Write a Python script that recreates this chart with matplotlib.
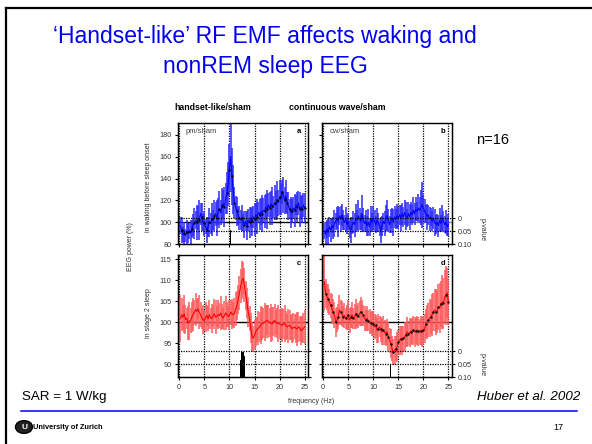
"""Slide: 'Handset-like' RF EMF affects waking and nonREM sleep EEG.
Four panels of relative EEG power spectra (exposure/sham) with p-value bars.
"""

import numpy as np
import matplotlib
matplotlib.use("Agg")
import matplotlib.pyplot as plt
from matplotlib.lines import Line2D
from matplotlib.patches import Circle

plt.rcParams["font.family"] = ["Liberation Sans", "DejaVu Sans"]

W, H = 592, 444

# ---
# Data (0.25 Hz bins, 0.25 .. 25 Hz)
# ---
freq_hz = np.arange(0.25, 25.01, 0.25)

# a: pm/sham, waking before sleep onset (%)
wake_pm = [
    97, 93, 89, 90, 88, 91, 90, 92, 90, 94,
    98, 99, 102, 100, 104, 102, 108, 105, 100, 99,
    96, 93, 96, 100, 99, 103, 102, 106, 108, 104,
    110, 112, 109, 115, 117, 114, 122, 127, 135, 148,
    160, 142, 130, 118, 113, 110, 106, 104, 102, 104,
    100, 98, 101, 97, 102, 100, 104, 101, 105, 103,
    107, 105, 109, 107, 110, 108, 111, 110, 114, 112,
    116, 113, 117, 115, 114, 118, 116, 120, 118, 123,
    121, 128, 125, 120, 124, 118, 115, 112, 109, 110,
    113, 111, 116, 114, 118, 112, 114, 112, 116, 113,
]
wake_pm_err = [
    8, 12, 7, 10, 6, 11, 9, 7, 12, 8,
    10, 14, 8, 16, 11, 18, 10, 13, 8, 11,
    7, 12, 9, 13, 10, 15, 9, 14, 11, 16,
    12, 17, 11, 16, 13, 18, 14, 19, 20, 24,
    32, 26, 22, 14, 11, 13, 8, 11, 9, 12,
    8, 12, 9, 13, 10, 14, 9, 13, 10, 15,
    11, 16, 10, 14, 12, 17, 11, 15, 12, 18,
    11, 15, 12, 17, 10, 16, 13, 18, 12, 16,
    14, 11, 16, 12, 15, 10, 13, 9, 14, 11,
    10, 15, 9, 14, 11, 16, 10, 13, 11, 14,
]

# b: cw/sham, waking before sleep onset (%)
wake_cw = [
    92, 89, 94, 91, 96, 93, 97, 95, 99, 101,
    104, 101, 106, 103, 107, 102, 100, 103, 98, 101,
    95, 93, 97, 100, 98, 104, 102, 106, 103, 101,
    108, 102, 99, 101, 97, 100, 96, 103, 100, 104,
    101, 98, 102, 100, 96, 93, 97, 101, 99, 104,
    106, 102, 98, 101, 104, 100, 105, 103, 106, 104,
    107, 104, 108, 105, 109, 106, 104, 108, 105, 109,
    107, 111, 108, 112, 110, 113, 111, 114, 116, 113,
    110, 108, 105, 107, 103, 105, 101, 104, 100, 98,
    100, 97, 102, 99, 104, 101, 98, 100, 96, 98,
]
wake_cw_err = [
    7, 11, 8, 12, 9, 11, 7, 10, 12, 8,
    10, 14, 8, 12, 10, 9, 7, 11, 9, 8,
    9, 12, 8, 10, 11, 13, 9, 14, 10, 8,
    17, 11, 8, 10, 9, 12, 8, 12, 9, 11,
    10, 8, 11, 9, 8, 12, 9, 8, 11, 12,
    14, 10, 8, 11, 9, 12, 10, 9, 11, 10,
    9, 12, 10, 9, 11, 13, 8, 11, 12, 10,
    9, 12, 10, 11, 9, 13, 12, 16, 21, 12,
    11, 8, 12, 9, 11, 8, 9, 10, 12, 9,
    8, 10, 11, 8, 12, 9, 8, 11, 8, 10,
]

# c: pm/sham, stage 2 sleep (%)
s2_pm = [
    100.9, 101.8, 101.2, 102.0, 100.6, 101.0, 99.8, 100.2, 100.4, 101.2,
    101.8, 102.3, 103.0, 102.6, 103.2, 102.4, 101.8, 101.0, 100.6, 100.4,
    101.2, 101.6, 100.8, 101.8, 101.0, 100.9, 101.5, 102.0, 101.2, 101.4,
    101.8, 101.6, 102.2, 101.4, 101.0, 101.6, 102.2, 101.8, 101.4, 101.7,
    102.4, 102.0, 101.8, 102.2, 103.2, 104.0, 105.4, 107.0, 108.6, 110.0,
    110.4, 108.8, 106.4, 104.6, 102.4, 100.8, 98.6, 96.5, 96.2, 97.0,
    97.8, 98.2, 98.6, 98.9, 99.4, 99.7, 99.8, 100.0, 100.2, 100.5,
    100.2, 100.0, 99.8, 99.6, 100.2, 100.4, 100.0, 99.8, 99.7, 99.6,
    99.4, 99.3, 99.6, 99.7, 99.2, 98.9, 99.1, 99.3, 98.8, 98.5,
    98.7, 98.9, 98.5, 98.4, 98.9, 98.6, 98.0, 98.2, 98.6, 98.9,
]
s2_pm_err = [
    5.5, 4.0, 3.0, 4.5, 3.5, 2.5, 4.0, 4.5, 3.0, 3.5,
    4.0, 3.0, 4.0, 3.0, 2.5, 4.0, 3.0, 2.5, 3.5, 2.5,
    3.5, 2.5, 3.0, 3.5, 2.5, 3.5, 2.5, 3.5, 4.0, 2.5,
    3.5, 3.0, 4.0, 3.0, 2.5, 3.5, 4.0, 3.0, 2.5, 3.5,
    3.0, 3.5, 3.0, 3.5, 4.0, 3.5, 3.5, 4.0, 4.0, 4.5,
    4.0, 4.0, 3.5, 3.5, 3.5, 3.0, 3.5, 3.5, 3.0, 3.5,
    3.5, 3.0, 4.0, 3.5, 4.5, 4.0, 3.5, 4.5, 4.0, 3.5,
    4.0, 3.5, 4.5, 4.0, 3.5, 4.0, 3.0, 3.5, 4.5, 3.5,
    3.5, 4.0, 3.5, 4.5, 3.5, 3.0, 4.0, 3.5, 3.0, 3.5,
    3.5, 3.0, 3.5, 4.0, 3.5, 3.0, 3.5, 3.0, 3.5, 4.0,
]

# d: cw/sham, stage 2 sleep (%)
s2_cw = [
    109.6, 106.8, 106.0, 105.6, 104.8, 104.0, 103.2, 102.5, 101.7, 100.0,
    100.6, 101.3, 102.9, 102.4, 102.0, 101.3, 101.6, 100.9, 101.2, 101.7,
    100.5, 101.2, 101.7, 100.9, 101.4, 102.0, 101.3, 101.6, 102.0, 102.5,
    102.2, 101.7, 100.9, 100.5, 100.9, 100.4, 100.1, 99.9, 99.7, 99.7,
    98.9, 99.3, 98.1, 98.5, 98.9, 98.3, 97.7, 98.1, 97.6, 97.3,
    97.7, 96.6, 95.7, 94.9, 93.7, 92.9, 93.3, 93.7, 94.1, 95.2,
    95.7, 96.1, 95.7, 96.2, 96.5, 97.0, 97.7, 97.3, 97.5, 97.7,
    97.9, 98.1, 97.7, 97.9, 98.1, 97.8, 97.7, 98.0, 97.7, 98.1,
    98.5, 99.7, 100.0, 100.5, 101.0, 101.3, 101.8, 102.5, 102.9, 102.5,
    102.5, 103.7, 103.4, 104.4, 104.8, 104.5, 106.0, 106.4, 107.0, 104.8,
]
s2_cw_err = [
    7.0, 3.5, 3.0, 3.5, 3.0, 3.0, 3.5, 3.0, 3.0, 3.5,
    3.0, 3.0, 3.5, 3.0, 3.0, 2.5, 3.0, 2.5, 3.0, 3.5,
    3.0, 2.5, 3.0, 2.5, 3.0, 3.5, 2.5, 3.0, 3.0, 3.5,
    3.0, 2.5, 3.0, 2.5, 3.0, 2.5, 3.0, 2.5, 3.0, 3.0,
    3.0, 2.5, 3.0, 3.5, 2.5, 3.0, 3.0, 3.5, 3.0, 3.0,
    3.0, 3.5, 3.0, 3.5, 3.0, 3.0, 3.5, 3.0, 3.5, 3.0,
    3.5, 3.0, 3.5, 3.0, 3.5, 3.0, 3.5, 3.0, 3.5, 3.0,
    3.0, 3.5, 3.5, 3.0, 3.5, 3.5, 3.0, 3.5, 3.5, 3.5,
    3.5, 3.5, 4.0, 4.0, 4.5, 4.0, 5.0, 4.5, 5.0, 5.5,
    5.0, 5.5, 6.0, 5.5, 6.5, 6.0, 6.5, 7.0, 6.0, 5.5,
]

# significant bins (p-values)
p_freq_a, p_val_a = [10.25], [0.045]
p_freq_b, p_val_b = [], []
p_freq_c, p_val_c = [12.25, 12.5, 12.75, 13.0], [0.035, 0.004, 0.003, 0.02]
p_freq_d, p_val_d = [13.5], [0.048]

x_ticks = [0, 5, 10, 15, 20, 25]
wake_ticks = [80, 100, 120, 140, 160, 180]
s2_ticks = [90, 95, 100, 105, 110, 115]
p_ticks = [0, 0.05, 0.10]
p_labels = ["0", "0.05", "0.10"]

BLUE = "#0000ff"
BLUE_BAR = "#2a2aff"
RED = "#ff0000"
RED_BAR = "#ff5a5a"
TICK_GRAY = "#333333"


def fx(x):
    return x / W


def fy(y):
    return 1 - y / H


def axes_px(fig, left, top, right, bottom):
    return fig.add_axes([fx(left), fy(bottom), (right - left) / W, (bottom - top) / H])


def draw_panel(ax, mean, err, line_color, bar_color, dots, ylim, yticks,
               p_freq, p_val, show_left, show_right, show_x, hline_color,
               letter, tag):
    mean = np.asarray(mean)
    err = np.asarray(err)

    for xv in x_ticks:
        ax.axvline(xv, color="black", ls=(0, (1, 1)), lw=0.9, zorder=0.5)
    ax.axhline(100, color=hline_color, lw=1.0, zorder=0.6)

    ax.vlines(freq_hz, mean - err, mean + err, color=bar_color, lw=1.1, zorder=1)
    ax.plot(freq_hz, mean, color=line_color, lw=0.8, zorder=2)
    if dots:
        ax.plot(freq_hz[1::2], mean[1::2], "o", ms=1.7, mew=0, color="black", zorder=3)

    ax.set_xlim(-0.3, 25.65)
    ax.set_ylim(*ylim)
    ax.set_xticks(x_ticks)
    ax.set_yticks(yticks)
    ax.tick_params(direction="out", length=2.5, width=0.8, labelsize=5.2,
                   labelcolor=TICK_GRAY, pad=2)
    if not show_left:
        ax.set_yticklabels([])
    if not show_x:
        ax.set_xticklabels([])
    for s in ax.spines.values():
        s.set_linewidth(0.9)
    ax.spines["top"].set_color("#555555")

    # p-value axis on the right (0.10 at the bottom, 0 near the 1/5 mark)
    twin = ax.twinx()
    twin.set_ylim(0.10, -0.37)
    twin.axhline(0, color="black", ls=(0, (1, 1)), lw=0.9)
    twin.axhline(0.05, color="black", ls=(0, (1, 1)), lw=0.9)
    if p_freq:
        twin.bar(p_freq, np.array(p_val) - 0.10, bottom=0.10, width=0.25,
                 color="black", linewidth=0)
    twin.set_yticks(p_ticks)
    twin.set_yticklabels(p_labels if show_right else [])
    twin.tick_params(direction="out", length=2.0, width=0.8, labelsize=5.2,
                     labelcolor=TICK_GRAY, pad=2)
    for s in twin.spines.values():
        s.set_linewidth(0.9)

    ax.text(0.93, 0.93, letter, transform=ax.transAxes, fontsize=5.5,
            fontweight="bold", ha="center", va="center", zorder=5)
    if tag:
        ax.text(0.06, 0.93, tag, transform=ax.transAxes, fontsize=5.5,
                color="#444444", ha="left", va="center", zorder=5)


def main():
    fig = plt.figure(figsize=(W / 100, H / 100), dpi=100)
    fig.patch.set_facecolor("white")

    # slide frame (left and top edges visible)
    fig.add_artist(Line2D([fx(6), fx(6)], [fy(444), fy(8)], color="black", lw=1.6))
    fig.add_artist(Line2D([fx(6), fx(592)], [fy(8), fy(8)], color="black", lw=1.6))

    # title
    fig.text(fx(265), fy(36), "\u2018Handset-like\u2019 RF EMF affects waking and",
             color="#0000ee", fontsize=16.5, ha="center", va="center")
    fig.text(fx(265), fy(66), "nonREM sleep EEG",
             color="#0000ee", fontsize=16.5, ha="center", va="center")

    fig.text(fx(213), fy(108), "handset-like/sham", fontsize=6.3,
             fontweight="bold", ha="center", va="center")
    fig.text(fx(337), fy(108), "continuous wave/sham", fontsize=6.3,
             fontweight="bold", ha="center", va="center")

    ax_a = axes_px(fig, 177.7, 122.7, 308, 244.3)
    ax_b = axes_px(fig, 321.7, 122.7, 451.7, 244.3)
    ax_c = axes_px(fig, 177.7, 255, 308, 377.3)
    ax_d = axes_px(fig, 321.7, 255, 451.7, 377.3)

    draw_panel(ax_a, wake_pm, wake_pm_err, BLUE, BLUE_BAR, True, (80, 191),
               wake_ticks, p_freq_a, p_val_a, True, False, False, "black",
               "a", "pm/sham")
    draw_panel(ax_b, wake_cw, wake_cw_err, BLUE, BLUE_BAR, False, (80, 191),
               wake_ticks, p_freq_b, p_val_b, False, True, False, "#888888",
               "b", "cw/sham")
    draw_panel(ax_c, s2_pm, s2_pm_err, RED, RED_BAR, False, (86.9, 116),
               s2_ticks, p_freq_c, p_val_c, True, False, True, "black",
               "c", None)
    draw_panel(ax_d, s2_cw, s2_cw_err, RED, RED_BAR, True, (86.9, 116),
               s2_ticks, p_freq_d, p_val_d, False, True, True, "black",
               "d", None)

    # axis labels
    fig.text(fx(148), fy(187), "in waking before sleep onset", rotation=90,
             fontsize=5, color=TICK_GRAY, ha="center", va="center")
    fig.text(fx(148), fy(313), "in stage 2 sleep", rotation=90,
             fontsize=5, color=TICK_GRAY, ha="center", va="center")
    fig.text(fx(130), fy(247), "EEG power (%)", rotation=90,
             fontsize=5, color=TICK_GRAY, ha="center", va="center")
    fig.text(fx(311), fy(401), "frequency (Hz)", fontsize=5, color=TICK_GRAY,
             ha="center", va="center")
    fig.text(fx(482), fy(230), "p-value", rotation=270, fontsize=5,
             color=TICK_GRAY, ha="center", va="center")
    fig.text(fx(482), fy(365), "p-value", rotation=270, fontsize=5,
             color=TICK_GRAY, ha="center", va="center")

    fig.text(fx(476), fy(140), "n=16", fontsize=10.5, ha="left", va="center")

    # footer
    fig.text(fx(22), fy(397), "SAR = 1 W/kg", fontsize=9.6, ha="left", va="center")
    fig.text(fx(580), fy(397), "Huber et al. 2002", fontsize=9.6,
             style="italic", ha="right", va="center")
    fig.add_artist(Line2D([fx(21), fx(577)], [fy(411), fy(411)], color="#0000ee", lw=1.1))

    fig.add_artist(Circle((fx(24), fy(427)), 8.5 / W, transform=fig.transFigure,
                          facecolor="#222222", edgecolor="black"))
    fig.text(fx(24), fy(427), "U", fontsize=6, color="white", fontweight="bold",
             ha="center", va="center")
    fig.text(fx(33), fy(427), "University of Zurich", fontsize=5.3,
             fontweight="heavy", ha="left", va="center")
    fig.text(fx(558), fy(427), "17", fontsize=6.5, ha="center", va="center")

    fig.savefig("out.png", dpi=100)


if __name__ == "__main__":
    main()
